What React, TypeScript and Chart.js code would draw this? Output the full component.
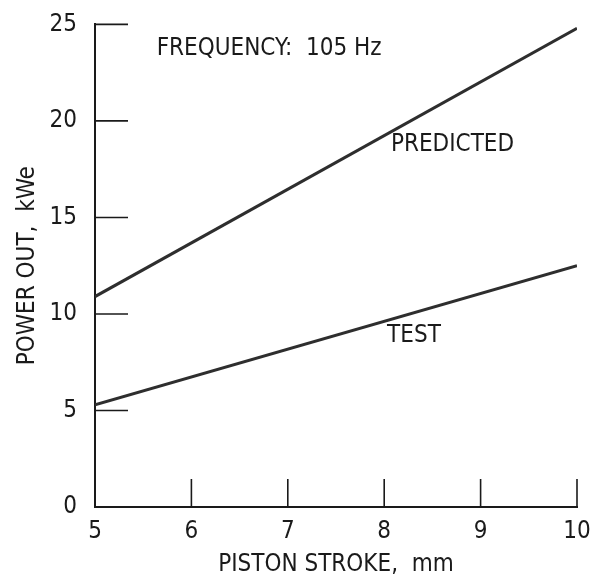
import React, { useEffect, useRef } from "react";
import { Chart, registerables } from "chart.js";

Chart.register(...registerables);

const strokeMm = [5, 10];
const predictedKWe = [10.9, 24.8];
const testKWe = [5.3, 12.5];
const xTickValues = [5, 6, 7, 8, 9, 10];
const yTickValues = [0, 5, 10, 15, 20, 25];
const xTitle = "PISTON STROKE,  mm";
const yTitle = "POWER OUT,  kWe";
const frequencyNote = "FREQUENCY:  105 Hz";
const predictedLabel = "PREDICTED";
const testLabel = "TEST";

const FONT = "'Liberation Sans Narrow', 'DejaVu Sans Condensed', 'Roboto', sans-serif";
const INK = "#1a1a1a";

const innerTicksPlugin = {
  id: "innerTicks",
  afterDraw(chart: any) {
    const { ctx, chartArea, scales } = chart;
    const xs = scales.x;
    const ys = scales.y;
    ctx.save();
    ctx.strokeStyle = INK;
    ctx.lineWidth = 1.6;
    xTickValues.slice(1).forEach((v) => {
      const px = xs.getPixelForValue(v);
      ctx.beginPath();
      ctx.moveTo(px, chartArea.bottom);
      ctx.lineTo(px, chartArea.bottom - 28);
      ctx.stroke();
    });
    yTickValues.slice(1).forEach((v) => {
      const py = ys.getPixelForValue(v);
      ctx.beginPath();
      ctx.moveTo(chartArea.left, py);
      ctx.lineTo(chartArea.left + 33, py);
      ctx.stroke();
    });
    ctx.fillStyle = INK;
    ctx.font = `24px ${FONT}`;
    ctx.textBaseline = "middle";
    ctx.textAlign = "left";
    ctx.fillText(frequencyNote, xs.getPixelForValue(5.64), ys.getPixelForValue(23.75));
    ctx.fillText(predictedLabel, xs.getPixelForValue(8.07), ys.getPixelForValue(18.75));
    ctx.fillText(testLabel, xs.getPixelForValue(8.03), ys.getPixelForValue(8.85));
    ctx.restore();
  },
};

export default function App() {
  const ref = useRef<HTMLCanvasElement>(null);
  useEffect(() => {
    if (!ref.current) return;
    const chart = new Chart(ref.current, {
      type: "line",
      data: {
        datasets: [
          {
            label: predictedLabel,
            data: strokeMm.map((x, i) => ({ x, y: predictedKWe[i] })),
            borderColor: "#2e2e2e",
            borderWidth: 3,
            pointRadius: 0,
            fill: false,
          },
          {
            label: testLabel,
            data: strokeMm.map((x, i) => ({ x, y: testKWe[i] })),
            borderColor: "#2e2e2e",
            borderWidth: 3,
            pointRadius: 0,
            fill: false,
          },
        ],
      },
      options: {
        animation: false,
        responsive: false,
        layout: { padding: { left: 0, right: 17, top: 22, bottom: 0 } },
        plugins: { legend: { display: false }, tooltip: { enabled: false } },
        scales: {
          x: {
            type: "linear",
            min: 5,
            max: 10,
            afterFit: (s: any) => {
              s.height = 72;
            },
            afterBuildTicks: (s: any) => {
              s.ticks = xTickValues.map((v) => ({ value: v }));
            },
            grid: { display: false },
            border: { display: true, color: INK, width: 2 },
            ticks: {
              color: INK,
              padding: 2,
              font: { family: FONT, size: 24 },
              maxRotation: 0,
            },
            title: {
              display: true,
              text: xTitle,
              color: INK,
              font: { family: FONT, size: 24 },
              padding: { top: 5, bottom: 0 },
            },
          },
          y: {
            type: "linear",
            min: 0,
            max: 25,
            afterFit: (s: any) => {
              s.width = 95;
            },
            afterBuildTicks: (s: any) => {
              s.ticks = yTickValues.map((v) => ({ value: v }));
            },
            grid: { display: false },
            border: { display: true, color: INK, width: 2 },
            ticks: {
              color: INK,
              padding: 10,
              font: { family: FONT, size: 24 },
            },
            title: {
              display: true,
              text: yTitle,
              color: INK,
              font: { family: FONT, size: 24 },
              padding: { top: 13, bottom: 0 },
            },
          },
        },
      },
      plugins: [innerTicksPlugin],
    } as any);
    return () => chart.destroy();
  }, []);
  return (
    <div style={{ position: "absolute", left: 0, top: 0, width: 594, height: 579, background: "#fff" }}>
      <canvas ref={ref} width={594} height={579} />
    </div>
  );
}
